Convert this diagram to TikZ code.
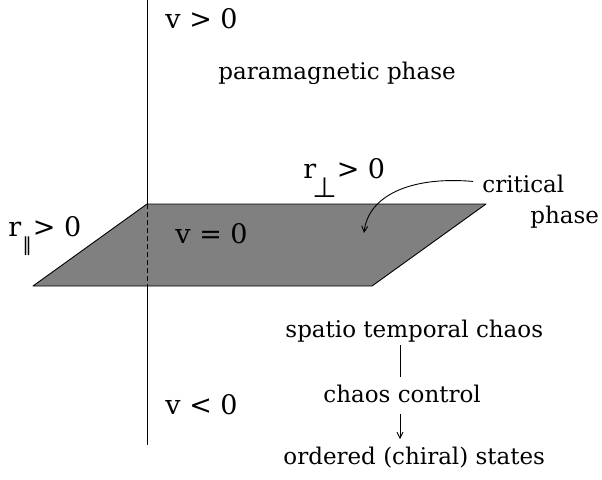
\documentclass[tikz,border=0pt]{standalone}
\usepackage{fontspec}
\setmainfont{DejaVu Serif}
\newfontfamily\glyphs{DejaVu Sans}
\usetikzlibrary{calc,arrows.meta}
\newcommand{\Unit}{1pt}
\newcommand{\Thin}{0.9pt}
\definecolor{plane}{HTML}{808080}
\definecolor{ink}{HTML}{000000}
\tikzset{
  big/.style={font=\fontsize{27}{30}\selectfont,inner sep=0pt,anchor=base west},
  small/.style={font=\fontsize{23}{26}\selectfont,inner sep=0pt,anchor=base west},
  barb/.style={-{Straight Barb[length=6pt,width=6pt]}}
}

\begin{document}
\begin{tikzpicture}[x=\Unit,y=-\Unit, line join=round, ink, line width=\Thin]
  \useasboundingbox (0,0) rectangle (602,479);

  % ---- the critical plane -------------------------------------------------
  \coordinate (pa) at (147,204);
  \coordinate (pb) at (486,204);
  \coordinate (pc) at (372,286);
  \coordinate (pd) at (33,286);
  \fill[plane,draw=ink] (pa) -- (pb) -- (pc) -- (pd) -- cycle;

  % ---- the v axis, dashed where it passes behind the plane ---------------
  \coordinate (top) at (147,0);
  \coordinate (bot) at (147,445);
  \draw (top) -- (pa);
  \draw[dash pattern=on 5pt off 3pt] (pa) -- (pa |- pd);
  \draw (pa |- pd) -- (bot);

  % ---- labels -------------------------------------------------------------
  \node[big] (vpos) at (165,28) {v > 0};
  \node[small] (para) at (218,79) {paramagnetic phase};
  \node[big] (rperp) at (303,178)
    {r\hspace{-4pt}\raisebox{-19pt}{\glyphs\fontsize{28}{28}\selectfont ⊥}> 0};
  \node[big] (rpar) at (8,236)
    {r\hspace{1pt}\raisebox{-15pt}{\glyphs\fontsize{19}{19}\selectfont ∥}\hspace{1pt}> 0};
  \node[big] (vzero) at (175,243) {v = 0};
  \node[big] (vneg) at (165,414) {v < 0};
  \node[small] (crit) at (482,192) {critical};
  \node[small] (critb) at (530,223) {phase};

  % the arrow into the plane
  \coordinate (tip) at (364,233);
  \draw[barb] ($(crit.west)+(-9,-2)$) .. controls (410,176) and (368,196) .. (tip);

  % ---- below the plane ----------------------------------------------------
  \node[small] (spatio) at (285,337) {spatio temporal chaos};
  \node[small] (ctrl) at (323,402) {chaos control};
  \node[small] (order) at (283,464) {ordered (chiral) states};
  \draw[shorten <=3pt,shorten >=7pt] (spatio.south -| 400,0) -- (ctrl.north -| 400,0);
  \draw[barb,shorten <=11pt,shorten >=7pt] (ctrl.south -| 400,0) -- (order.north -| 400,0);

\end{tikzpicture}
\end{document}
